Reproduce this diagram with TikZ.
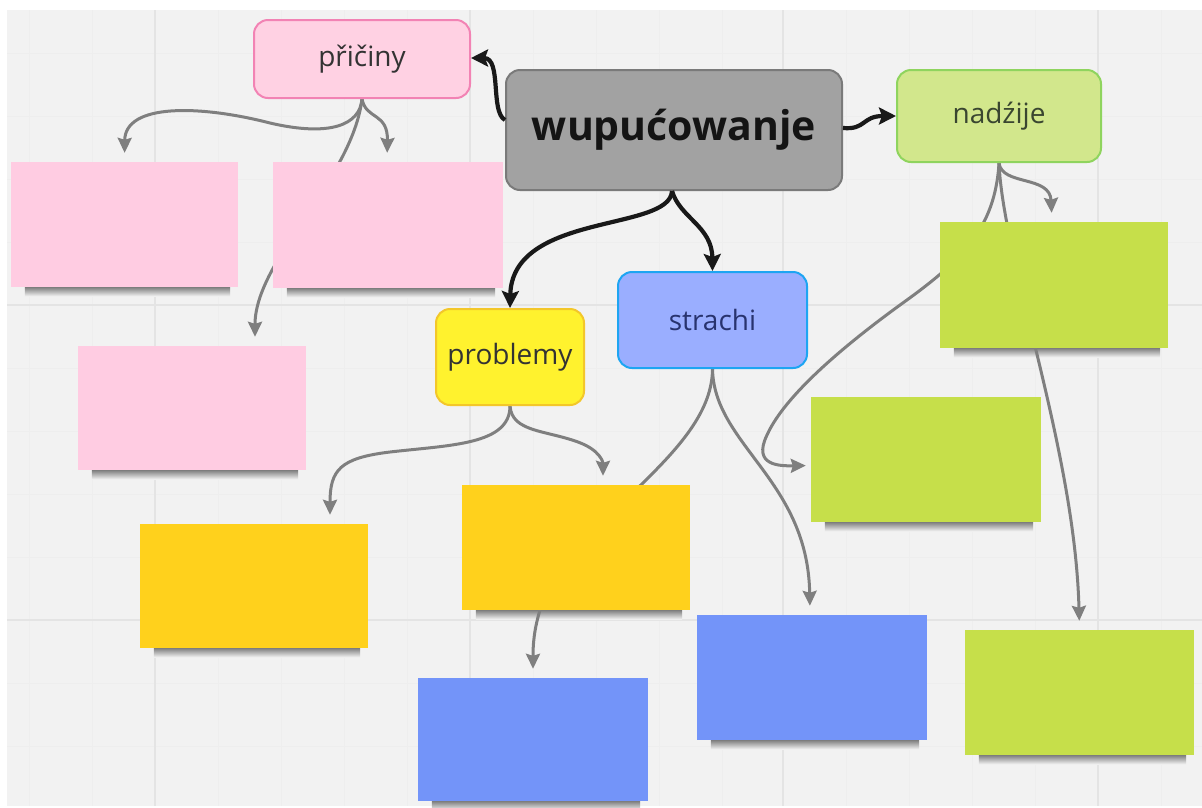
\documentclass[tikz,border=0pt]{standalone}
\usepackage{fontspec}
\setmainfont{Open Sans}
\usetikzlibrary{arrows.meta}
\pgfdeclarelayer{background}
\pgfsetlayers{background,main}
\definecolor{bg}{HTML}{F2F2F2}
\definecolor{gridc}{HTML}{E4E4E4}
\definecolor{gridm}{HTML}{EEEEEE}
\definecolor{conn}{HTML}{7F7F7F}
\definecolor{pinkfill}{HTML}{FFD1E3}
\definecolor{pinkdraw}{HTML}{F283B4}
\definecolor{cenfill}{HTML}{A2A2A2}
\definecolor{cendraw}{HTML}{7A7A7A}
\definecolor{grfill}{HTML}{D2E78C}
\definecolor{grdraw}{HTML}{8FD45E}
\definecolor{grtext}{HTML}{3A4630}
\definecolor{yefill}{HTML}{FFF22E}
\definecolor{yedraw}{HTML}{F3C72A}
\definecolor{blfill}{HTML}{9AAEFF}
\definecolor{bldraw}{HTML}{1DA5F2}
\definecolor{bltext}{HTML}{28336E}
\definecolor{npink}{HTML}{FFCCE2}
\definecolor{ngold}{HTML}{FFD11C}
\definecolor{nblue}{HTML}{7394F9}
\definecolor{ngreen}{HTML}{C6DF4A}
\tikzset{
  topic/.style={rounded corners=14pt, line width=2pt, inner sep=0pt, text=black!80, font=\fontsize{28}{33}\selectfont},
  sticky/.style={inner sep=0pt, draw=none},
  noteshadow/.style={top color=black!50, bottom color=bg, draw=none},
  thin conn/.style={draw=conn, line width=3pt, -{Stealth[length=15pt,width=14pt,inset=2pt]}, shorten >=9pt},
  bold conn/.style={draw=black!90, line width=4.2pt, -{Stealth[length=17pt,width=17pt,inset=3pt]}},
}
\newcommand{\undershadow}[1]{%
  \fill[noteshadow] ([xshift=14pt]#1.south west) rectangle ([xshift=-8pt,yshift=-9pt]#1.south east);}
\begin{document}
\begin{tikzpicture}[x=1pt,y=-1pt]
\useasboundingbox (0,0) rectangle (1202,807);

% topic nodes
\node[topic, fill=pinkfill, draw=pinkdraw, minimum width=216pt, minimum height=78pt] (pric) at (362,59) {přičiny};
\node[topic, fill=cenfill, draw=cendraw, minimum width=336pt, minimum height=120pt, text=black!92, font=\fontsize{41}{48}\selectfont\bfseries] (wup) at (674,130) {wupućowanje};
\node[topic, fill=grfill, draw=grdraw, text=grtext, minimum width=204pt, minimum height=92pt] (nad) at (999,116) {nadźije};
\node[topic, fill=yefill, draw=yedraw, minimum width=148pt, minimum height=96pt] (prob) at (510,357) {problemy};
\node[topic, fill=blfill, draw=bldraw, text=bltext, minimum width=189pt, minimum height=96pt] (str) at (712.5,320) {strachi};

% sticky notes
\node[sticky, fill=npink, minimum width=227pt, minimum height=125pt] (pink1) at (124.5,224.5) {};
\node[sticky, fill=npink, minimum width=230pt, minimum height=126pt] (pink2) at (388,225) {};
\node[sticky, fill=npink, minimum width=228pt, minimum height=124pt] (pink3) at (192,408) {};
\node[sticky, fill=ngold, minimum width=228pt, minimum height=124pt] (gold1) at (254,586) {};
\node[sticky, fill=ngold, minimum width=228pt, minimum height=125pt] (gold2) at (576,547.5) {};
\node[sticky, fill=nblue, minimum width=230pt, minimum height=123pt] (blue1) at (533,739.5) {};
\node[sticky, fill=nblue, minimum width=230pt, minimum height=125pt] (blue2) at (812,677.5) {};
\node[sticky, fill=ngreen, minimum width=228pt, minimum height=126pt] (green1) at (1054,285) {};
\node[sticky, fill=ngreen, minimum width=230pt, minimum height=125pt] (green2) at (926,459.5) {};
\node[sticky, fill=ngreen, minimum width=229pt, minimum height=125pt] (green3) at (1079.5,692.5) {};

\begin{pgfonlayer}{background}
\fill[white] (0,0) rectangle (1202,807);
\fill[bg] (7,10) rectangle (1202,806);
\begin{scope}
\clip (7,10) rectangle (1202,806);
\foreach \x in {29,92,218,281,344,407,533,596,659,722,846,909,972,1035,1161} \draw[gridm, line width=1pt] (\x,10) -- (\x,806);
\foreach \y in {53,116,179,242,368,431,494,557,683,746} \draw[gridm, line width=1pt] (7,\y) -- (1202,\y);
\foreach \x in {155,470,783,1098} \draw[gridc, line width=2pt] (\x,10) -- (\x,806);
\foreach \y in {305,620} \draw[gridc, line width=2pt] (7,\y) -- (1202,\y);
\end{scope}
% shadows
\foreach \n in {pink1,pink2,pink3,gold1,gold2,blue1,blue2,green1,green2,green3} {\undershadow{\n}}
% gray connectors (behind notes)
\draw[thin conn] (pric.south) .. controls (360,125) and (330,137) .. (270,123) .. controls (200,105) and (125,103) .. (pink1.north);
\draw[thin conn] (pric.south) .. controls (366,120) and (388,112) .. ([xshift=-1pt]pink2.north);
\draw[thin conn] (pric.south) .. controls (352,180) and (255,260) .. ([xshift=63pt]pink3.north);
\draw[thin conn] (prob.south) .. controls (510,445) and (450,445) .. (390,452) .. controls (340,458) and (330,470) .. ([xshift=76pt]gold1.north);
\draw[thin conn] (prob.south) .. controls (512,432) and (545,430) .. (578,442) .. controls (600,450) and (603,462) .. ([xshift=27pt]gold2.north);
\draw[thin conn] (str.south) .. controls (712,450) and (590,510) .. (545,595) .. controls (535,622) and (533,640) .. (blue1.north);
\draw[thin conn] (str.south) .. controls (714,445) and (808,480) .. ([xshift=-2pt]blue2.north);
\draw[thin conn] (nad.south) .. controls (1002,186) and (1050,175) .. ([xshift=-2pt]green1.north);
\draw[thin conn] (nad.south) .. controls (1003,260) and (1075,450) .. (green3.north);
\draw[thin conn, shorten >=5pt] (nad.south) .. controls (995,230) and (960,262) .. (900,305) .. controls (845,345) and (785,395) .. (767,435) .. controls (752,466) and (780,466) .. ([yshift=-6pt]green2.west);
\end{pgfonlayer}

% black connectors
\draw[bold conn] ([yshift=10pt]wup.west) .. controls (490,112) and (502,58) .. ([yshift=1pt]pric.east);
\draw[bold conn] ([yshift=2pt]wup.east) .. controls (866,130) and (862,116) .. (nad.west);
\draw[bold conn] ([xshift=-2pt]wup.south) .. controls (670,232) and (512,212) .. (prob.north);
\draw[bold conn] ([xshift=-2pt]wup.south) .. controls (680,218) and (712,226) .. (str.north);
\end{tikzpicture}
\end{document}
